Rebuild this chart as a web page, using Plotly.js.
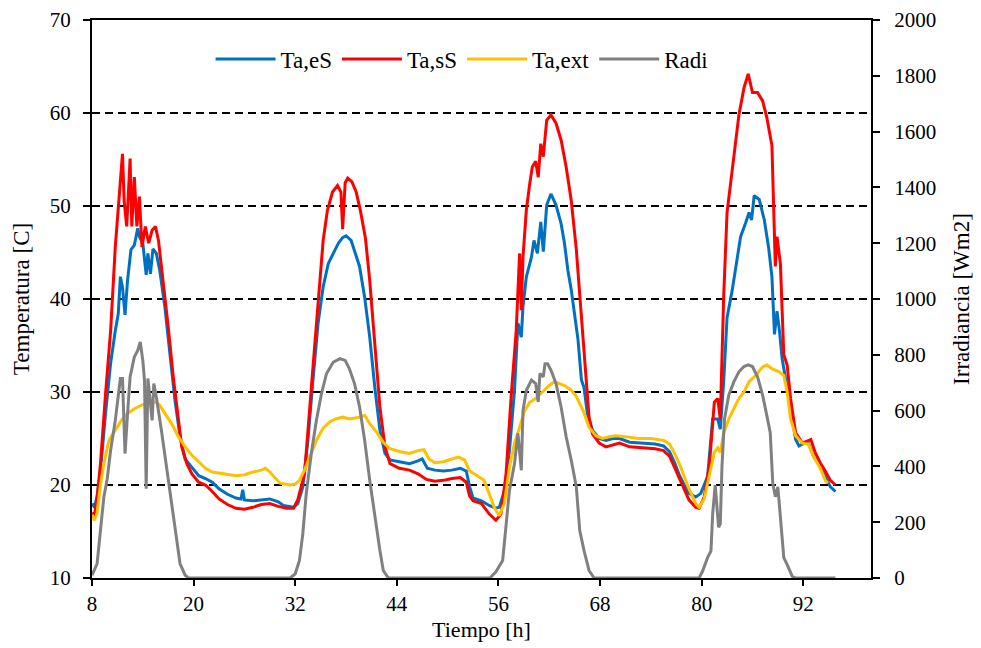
<!DOCTYPE html>
<html>
<head>
<meta charset="utf-8">
<script src="https://cdn.plot.ly/plotly-3.0.1.min.js"></script>
<style>html,body{margin:0;padding:0;background:#fff;}#chart{width:981px;height:648px;}</style>
</head>
<body>
<div id="chart"></div>
<script>
// Ta,eS (blue)
const tBlue = [8.0,8.3,8.6,9.0,9.6,10.2,10.75,11.1,11.35,11.6,11.9,12.2,12.6,13.0,13.4,13.6,14.0,14.4,14.6,14.9,15.2,15.6,16.0,16.6,17.2,17.8,18.4,19.0,19.8,20.6,21.4,22.2,23.0,24.0,25.0,25.6,25.8,26.0,27.0,28.0,29.0,30.0,30.6,31.8,32.3,32.9,33.5,34.1,34.7,35.3,35.9,36.5,37.1,37.6,38.0,38.6,39.1,39.6,40.2,40.8,41.4,42.0,42.6,43.2,44.3,45.5,46.5,47.0,47.6,48.5,49.5,50.5,51.5,52.2,52.6,53.0,54.0,54.9,55.7,56.1,56.7,57.3,57.9,58.3,58.7,58.9,59.3,59.9,60.2,60.6,61.0,61.3,61.7,62.2,62.8,63.4,63.8,64.2,64.6,65.0,65.4,65.8,66.1,66.5,67.1,67.9,68.7,69.5,70.3,71.5,73.0,74.5,75.5,76.2,76.8,77.4,78.0,78.5,79.3,79.9,80.7,81.3,81.9,82.2,82.6,83.0,83.6,84.2,84.6,85.2,85.6,85.9,86.2,86.8,87.4,87.9,88.3,88.6,88.9,89.2,89.5,89.9,90.5,91.1,91.5,92.1,92.6,93.2,94.0,94.6,95.2,95.8];
const taES = [18.0,17.6,18.8,21.5,27.7,33.1,36.6,38.4,42.4,41.3,38.3,42.0,45.3,45.8,47.6,46.7,46.0,42.6,44.9,42.7,45.4,44.9,43.1,39.2,34.1,29.1,25.2,22.8,21.9,21.0,20.7,20.3,19.6,19.0,18.6,18.5,19.5,18.4,18.3,18.4,18.5,18.2,17.8,17.6,18.0,19.8,24.8,31.3,37.4,41.3,43.8,44.9,46.0,46.6,46.8,46.3,45.0,43.5,40.2,35.9,30.5,25.9,23.4,22.7,22.5,22.3,22.6,22.8,21.8,21.6,21.5,21.6,21.8,21.5,19.8,18.6,18.3,17.8,17.5,17.6,19.4,23.7,30.2,37.4,35.9,39.2,42.4,44.5,46.3,44.9,48.3,45.1,50.1,51.3,50.1,48.1,46.0,43.1,41.0,38.1,35.6,31.3,30.5,27.7,25.9,25.0,24.8,25.0,25.0,24.6,24.5,24.4,24.2,23.6,22.4,21.0,19.9,19.1,18.7,19.1,20.9,27.1,27.1,26.0,31.1,38.0,40.9,44.2,46.7,48.2,49.3,48.5,51.1,50.7,48.5,45.6,42.4,36.2,38.7,36.5,33.6,31.5,28.2,24.9,24.2,24.5,24.5,23.1,22.0,20.9,19.8,19.3];

// Ta,sS (red)
const tRed = [8.0,8.3,8.6,9.0,9.6,10.2,10.75,11.3,11.6,11.8,12.1,12.5,12.7,13.0,13.3,13.6,13.9,14.3,14.7,15.1,15.5,15.85,16.4,17.0,17.6,18.2,18.6,19.2,19.8,20.6,21.4,22.2,23.0,24.0,25.0,26.0,27.0,28.0,29.0,30.0,31.0,31.8,32.3,33.1,33.5,34.1,34.7,35.3,35.8,36.4,37.0,37.4,37.6,37.9,38.2,38.7,39.2,39.7,40.3,40.8,41.2,42.0,42.6,43.2,44.3,45.5,46.5,47.5,48.5,49.5,50.5,51.5,52.2,52.6,53.0,54.0,54.9,55.7,56.3,56.9,57.5,58.1,58.5,58.7,58.9,59.3,59.7,60.0,60.4,60.7,61.0,61.3,61.7,62.2,62.8,63.4,64.0,64.6,65.2,65.6,66.0,66.3,66.7,67.1,67.9,68.7,69.5,70.3,71.5,73.0,74.5,75.5,76.2,76.8,77.4,78.0,78.5,79.3,79.7,80.3,80.9,81.5,81.9,82.2,82.6,83.0,83.4,83.8,84.4,85.0,85.5,86.0,86.6,87.2,87.7,88.3,88.5,88.7,88.9,89.3,89.7,90.1,90.5,91.1,91.9,92.9,93.4,94.0,94.6,95.2,95.8];
const taSS = [17.0,16.8,18.5,22.3,29.8,36.6,45.6,51.7,55.6,50.5,47.8,55.1,47.8,53.1,47.8,51.0,45.6,47.8,46.0,47.4,47.8,46.3,42.0,37.0,31.6,27.0,24.1,22.3,21.2,20.3,20.0,19.3,18.5,17.9,17.5,17.4,17.6,17.9,18.0,17.7,17.5,17.5,18.4,21.2,25.5,32.7,39.5,46.3,49.5,51.5,52.2,51.5,47.5,52.5,53.0,52.6,51.5,49.5,46.5,42.0,37.4,28.4,24.1,22.3,21.8,21.6,21.2,20.6,20.4,20.5,20.7,20.8,20.3,18.8,18.3,18.0,16.9,16.2,16.9,21.2,29.5,36.6,44.9,38.8,44.5,49.6,52.4,54.2,54.8,53.1,56.7,55.3,59.2,59.8,58.9,57.1,54.2,50.6,45.3,40.2,35.2,31.3,27.3,25.5,24.5,24.1,24.3,24.5,24.1,24.0,23.9,23.7,23.1,21.9,20.6,19.3,18.4,17.6,17.5,18.7,22.0,28.9,29.3,27.1,40.2,49.3,52.2,55.1,59.8,62.7,64.2,62.2,62.2,61.3,59.5,56.5,49.3,43.5,46.7,43.8,34.0,32.9,29.3,25.6,24.5,24.9,23.5,22.4,21.5,20.5,20.0];

// Ta,ext (yellow)
const tExt = [8.0,8.3,8.6,9.0,9.4,10.0,10.75,11.5,12.2,13.0,13.9,14.7,15.5,16.0,16.6,17.4,18.2,19.0,19.8,20.6,21.4,22.2,23.0,24.0,25.0,26.0,27.0,28.0,28.5,29.0,29.6,30.2,31.4,32.0,32.5,33.1,33.7,34.5,35.3,36.1,36.8,37.6,38.4,39.6,40.2,40.8,41.6,42.4,43.2,44.3,45.5,46.5,47.2,47.8,48.5,49.5,50.5,51.3,52.0,52.6,53.5,54.3,54.9,55.5,56.1,56.7,57.3,57.9,58.5,59.1,59.7,60.4,61.2,62.0,62.6,63.2,63.8,64.6,65.2,66.0,66.7,67.5,68.3,69.1,69.9,71.0,72.5,74.0,75.5,76.2,76.8,77.4,78.0,78.5,79.3,79.7,80.3,80.9,81.5,81.9,82.2,82.6,83.2,83.8,84.4,85.0,85.6,86.4,87.2,87.7,88.3,89.1,89.7,90.1,90.5,91.1,91.9,92.6,93.2,94.0,94.6,94.9];
const taExt = [16.8,16.2,17.0,20.0,22.3,24.8,25.9,27.0,27.7,28.2,28.6,28.9,28.9,28.6,27.7,26.6,25.2,24.1,23.2,22.5,21.8,21.4,21.3,21.1,21.0,21.1,21.4,21.6,21.8,21.4,20.8,20.2,20.0,20.1,20.5,21.6,23.0,24.8,26.1,26.8,27.1,27.3,27.1,27.3,27.5,26.6,25.7,24.6,23.9,23.6,23.4,23.7,23.8,22.8,22.4,22.5,22.8,23.0,22.7,21.5,21.0,20.5,19.1,17.6,16.7,18.0,21.9,24.5,26.2,28.0,28.9,29.3,30.0,30.7,31.1,30.9,30.7,30.2,29.5,28.0,26.2,25.3,25.0,25.2,25.3,25.2,25.0,25.0,24.8,24.4,23.4,22.2,20.8,19.6,18.0,17.6,18.5,20.9,23.5,24.0,23.5,25.6,27.1,28.2,29.3,30.0,31.1,31.8,32.7,32.9,32.5,32.2,31.8,30.0,27.1,25.3,24.5,24.4,23.1,21.8,20.5,20.2];

// Radi (gray, right axis)
const tRad = [8.0,8.6,9.0,9.4,9.8,10.2,10.75,11.1,11.35,11.6,11.9,12.2,12.5,13.0,13.4,13.7,14.0,14.2,14.4,14.6,15.1,15.3,15.6,16.2,16.8,17.4,17.9,18.4,19.0,19.4,31.4,32.0,32.5,32.9,33.3,33.9,34.5,35.1,35.7,36.5,37.3,37.9,38.4,39.0,39.6,40.2,40.8,41.4,42.0,42.4,43.0,55.0,55.7,56.5,56.9,57.3,57.9,58.3,58.7,58.9,59.3,59.9,60.4,60.7,60.9,61.3,61.5,61.8,62.2,62.8,63.4,64.0,64.6,65.2,65.6,66.1,66.7,67.3,79.7,80.1,80.7,81.1,81.3,81.6,82.0,82.2,82.4,82.7,83.2,83.8,84.4,85.0,85.5,86.0,86.6,87.2,87.7,88.1,88.4,88.7,89.0,89.3,89.7,90.1,90.7,91.1,95.8];
const radi = [10,51,171,290,356,458,565,649,715,715,446,589,721,792,816,846,780,709,320,715,565,697,649,529,398,255,147,51,10,0,0,15,63,159,302,446,565,661,733,774,786,780,750,697,613,494,350,219,99,27,0,0,22,63,195,314,410,518,386,601,673,709,697,631,733,721,768,768,745,697,613,506,422,326,171,99,27,0,0,24,73,97,230,333,182,194,400,570,655,703,739,758,764,758,721,655,582,521,339,291,327,230,73,48,6,0,0];

const seriesNames = ['Ta,eS','Ta,sS','Ta,ext','Radi'];
const xTicks = [8,20,32,44,56,68,80,92];

const FONT = 'Liberation Serif';

const traces = [
  {x:tBlue, y:taES, name:seriesNames[0], type:'scatter', mode:'lines', line:{color:'#0070C0', width:3}},
  {x:tRed, y:taSS, name:seriesNames[1], type:'scatter', mode:'lines', line:{color:'#FF0000', width:3}},
  {x:tExt, y:taExt, name:seriesNames[2], type:'scatter', mode:'lines', line:{color:'#FFC000', width:3}},
  {x:tRad, y:radi, name:seriesNames[3], type:'scatter', mode:'lines', yaxis:'y2', line:{color:'#808080', width:3}}
];

const layout = {
  width:981, height:648,
  margin:{l:92, r:110, t:20, b:70},
  paper_bgcolor:'#fff', plot_bgcolor:'#fff',
  font:{family:FONT, color:'#000', size:21},
  showlegend:true,
  legend:{orientation:'h', x:0.475, xanchor:'center', y:0.93, yanchor:'middle',
          font:{family:FONT, size:23, color:'#000'}, bgcolor:'rgba(0,0,0,0)', itemwidth:60, tracegroupgap:0},
  xaxis:{range:[8,100], tickmode:'array', tickvals:xTicks, ticktext:xTicks.map(String),
         ticks:'outside', ticklen:6, tickwidth:2, tickcolor:'#000',
         showline:true, linecolor:'#000', linewidth:2, mirror:true,
         showgrid:false, zeroline:false,
         tickfont:{family:FONT, size:21, color:'#000'},
         title:{text:'Tiempo [h]', font:{family:FONT, size:22, color:'#000'}, standoff:6}},
  yaxis:{range:[10,70], dtick:10, tick0:10,
         ticks:'outside', ticklen:7, tickwidth:2, tickcolor:'#000',
         showline:true, linecolor:'#000', linewidth:2,
         showgrid:true, gridcolor:'#000', gridwidth:1.8, griddash:'8px,5px',
         zeroline:false, ticklabelstandoff:8,
         tickfont:{family:FONT, size:21, color:'#000'},
         title:{text:'Temperatura [C]', font:{family:FONT, size:23, color:'#000'}, standoff:14}},
  yaxis2:{range:[0,2000], dtick:200, tick0:0, overlaying:'y', side:'right',
          ticks:'outside', ticklen:7, tickwidth:2, tickcolor:'#000',
          showline:true, linecolor:'#000', linewidth:2,
          showgrid:false, zeroline:false, ticklabelstandoff:10,
          tickfont:{family:FONT, size:21, color:'#000'},
          title:{text:'Irradiancia [Wm2]', font:{family:FONT, size:23, color:'#000'}, standoff:18}}
};

Plotly.newPlot('chart', traces, layout, {staticPlot:true, displayModeBar:false});
</script>
</body>
</html>
